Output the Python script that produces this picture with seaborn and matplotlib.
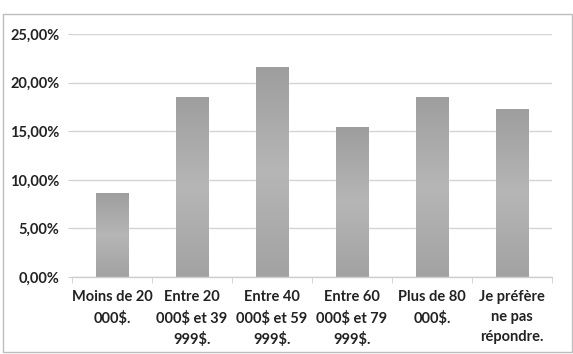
import numpy as np
import pandas as pd
import matplotlib
matplotlib.use("Agg")
import matplotlib.pyplot as plt
import seaborn as sns
from matplotlib.patches import Rectangle
from matplotlib.ticker import FuncFormatter, MultipleLocator

categories = [
    "Moins de 20\n000$.",
    "Entre 20\n000$ et 39\n999$.",
    "Entre 40\n000$ et 59\n999$.",
    "Entre 60\n000$ et 79\n999$.",
    "Plus de 80\n000$.",
    "Je préfère\nne pas\nrépondre.",
]
percent = [8.64, 18.52, 21.60, 15.43, 18.52, 17.28]

df = pd.DataFrame({"cat": categories, "pct": percent})

sns.set_style("white")
plt.rcParams["font.family"] = ["Lato", "DejaVu Sans"]

fig = plt.figure(figsize=(5.73, 3.54), dpi=100)
ax = fig.add_axes([72 / 573, 1 - 277 / 354, 480 / 573, 243 / 354])

sns.barplot(data=df, x="cat", y="pct", color="#a9a9a9", width=0.41,
            saturation=1, ax=ax, zorder=2)

# vertical gradient in the bars
grad = np.linspace(0, 1, 256).reshape(-1, 1)
cmap = matplotlib.colors.LinearSegmentedColormap.from_list(
    "g", ["#a2a2a2", "#b6b6b6", "#9e9e9e"])
for p in ax.patches:
    x0, y0 = p.get_x(), p.get_y()
    w, h = p.get_width(), p.get_height()
    im = ax.imshow(grad, cmap=cmap, aspect="auto", origin="lower",
                   extent=[x0, x0 + w, y0, y0 + h], zorder=2.5)
    im.set_clip_path(p)

ax.set_xlim(-0.5, 5.5)
ax.set_ylim(0, 25)
ax.yaxis.set_major_locator(MultipleLocator(5))
ax.yaxis.set_major_formatter(FuncFormatter(lambda v, _: f"{v:.2f}%".replace(".", ",")))
ax.grid(axis="y", color="#d4d4d4", linewidth=1.0, zorder=0)
ax.set_xlabel("")
ax.set_ylabel("")

for s in ["top", "right", "left"]:
    ax.spines[s].set_visible(False)
ax.spines["bottom"].set_color("#cfcfcf")
ax.spines["bottom"].set_linewidth(1.0)

ax.set_xticks(range(len(categories)))
ax.set_xticklabels(categories, linespacing=1.55, fontweight="bold")
ax.set_xticks(np.arange(-0.5, 6, 1), minor=True)
ax.tick_params(axis="x", which="minor", bottom=True, length=4, color="#cfcfcf")
ax.tick_params(axis="x", which="major", bottom=False, labelsize=10.5, pad=6,
               colors="#222222")
ax.tick_params(axis="y", left=True, length=3, color="#cfcfcf", labelsize=10.5,
               pad=6, colors="#222222")
for lbl in ax.get_yticklabels():
    lbl.set_fontweight("bold")

# outer chart border
fig.patches.append(Rectangle((3 / 573, 2 / 354), 569 / 573, 338 / 354,
                             transform=fig.transFigure, fill=False,
                             edgecolor="#bdbdbd", linewidth=1.0))

fig.savefig("out.png", dpi=100, facecolor="white")
